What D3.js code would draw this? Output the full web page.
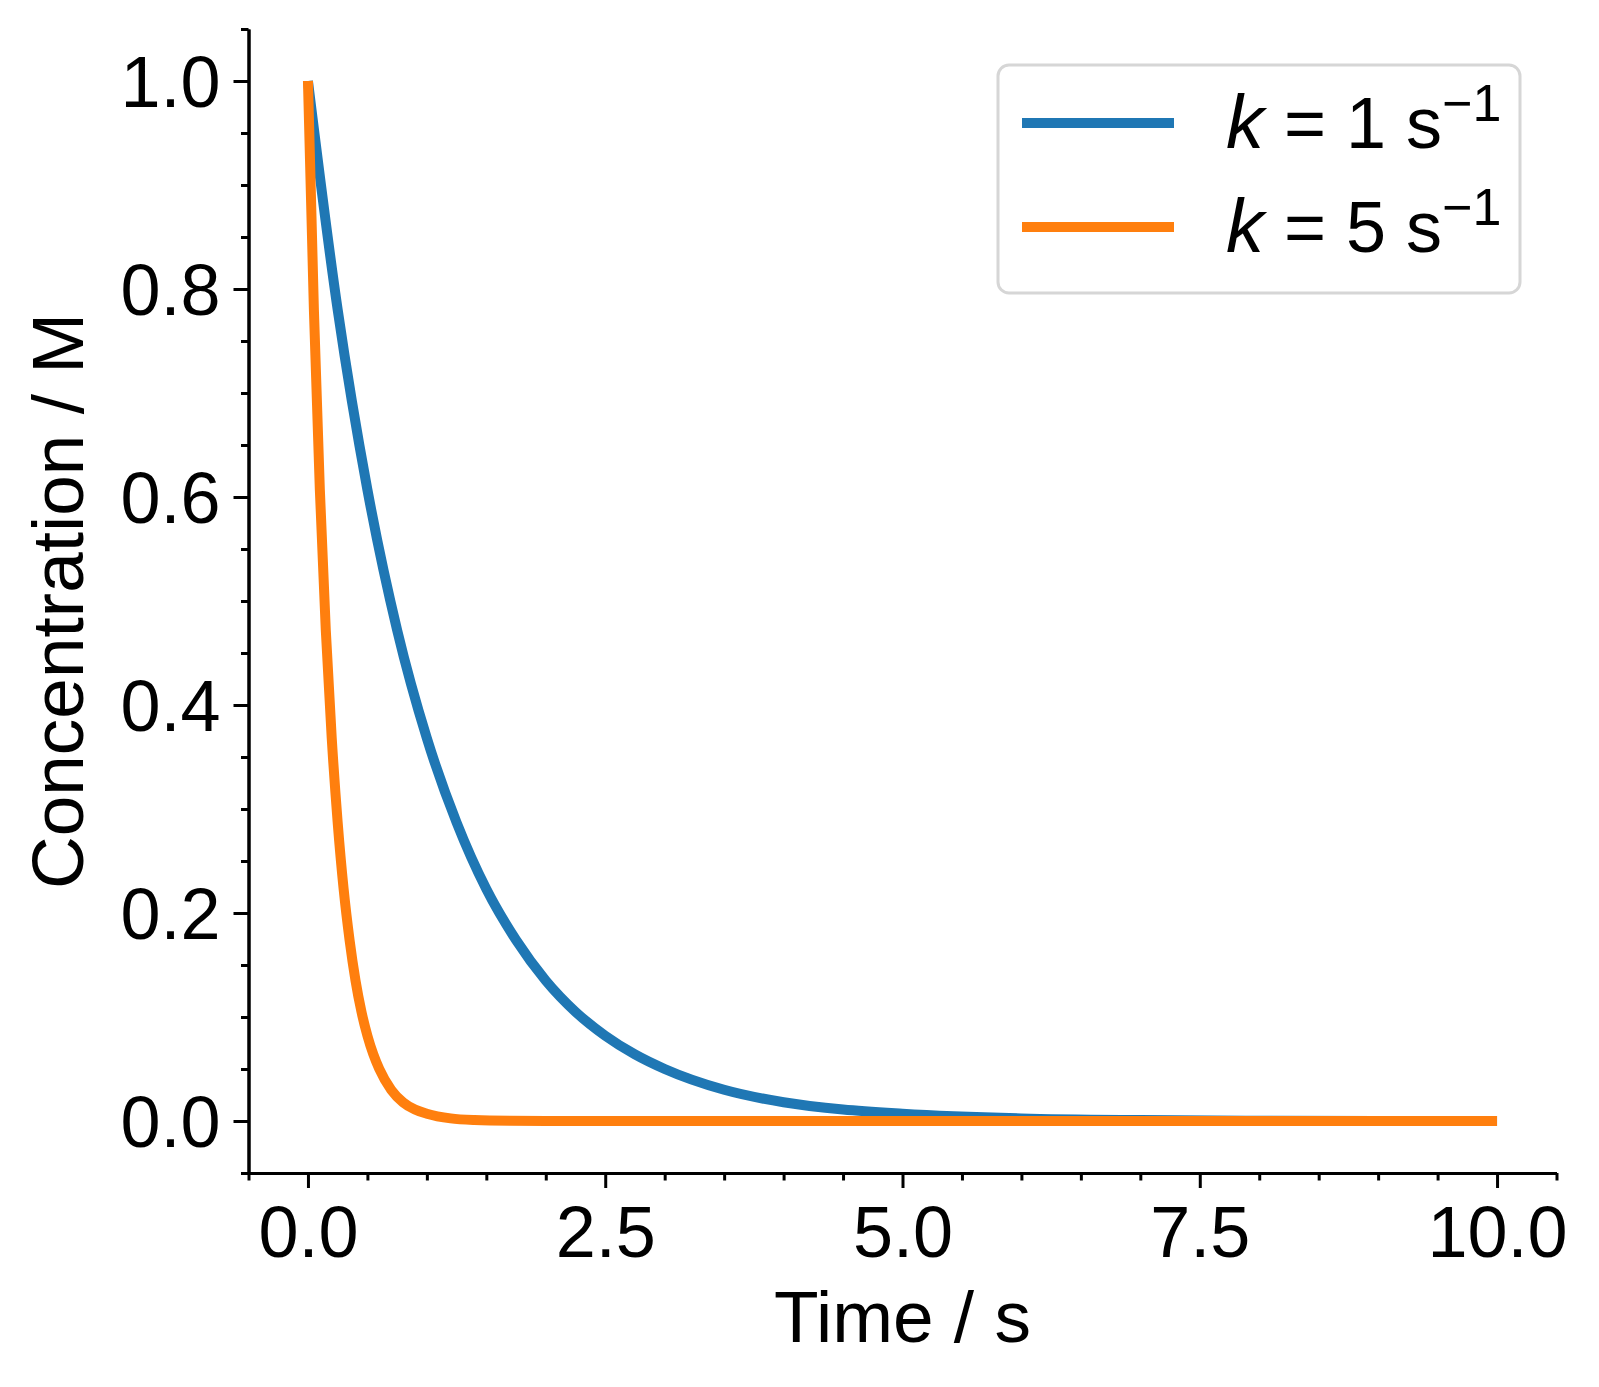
<!DOCTYPE html>
<html>
<head>
<meta charset="utf-8">
<script src="https://cdn.jsdelivr.net/npm/d3@7"></script>
<style>
  body { margin: 0; background: #fff; }
  text { font-family: "Liberation Sans", Arial, sans-serif; }
</style>
</head>
<body>
<script>
// values
var timeK1 = [0, 0.25, 0.5, 0.75, 1, 1.25, 1.5, 1.75, 2, 2.25, 2.5, 2.75, 3, 3.5, 4, 4.5, 5, 6, 7, 8, 9, 10];
var concK1 = [1.0, 0.78, 0.607, 0.472, 0.368, 0.287, 0.223, 0.174, 0.135, 0.105, 0.082, 0.064, 0.050, 0.030, 0.018, 0.011, 0.007, 0.0025, 0.0009, 0.0003, 0.0001, 0.00005];

var timeK5 = [0, 0.05, 0.1, 0.15, 0.2, 0.25, 0.3, 0.35, 0.4, 0.45, 0.5, 0.55, 0.6, 0.7, 0.8, 0.9, 1.0, 1.2, 1.4, 1.7, 2, 3, 5, 10];
var concK5 = [1.0, 0.78, 0.607, 0.472, 0.368, 0.287, 0.223, 0.174, 0.135, 0.105, 0.082, 0.064, 0.050, 0.030, 0.018, 0.011, 0.007, 0.0025, 0.0009, 0.0002, 0.00005, 0, 0, 0];

var seriesNames = ["1", "5"];
var seriesColors = ["#1f77b4", "#ff7f0e"];

var xTicks = [0, 2.5, 5, 7.5, 10];
var yTicks = [0, 0.2, 0.4, 0.6, 0.8, 1.0];

var series = [
  timeK1.map(function(t, i) { return {t: t, c: concK1[i]}; }),
  timeK5.map(function(t, i) { return {t: t, c: concK5[i]}; })
];

var svg = d3.select("body")
  .append("svg")
  .attr("width", 1599)
  .attr("height", 1387);

var x = d3.scaleLinear()
  .domain([-0.5, 10.5])
  .range([248.5, 1556.5]);

var y = d3.scaleLinear()
  .domain([-0.05, 1.05])
  .range([1173, 29]);

// minor ticks
var xMinor = d3.range(-0.5, 10.51, 0.5).filter(function(v) { return xTicks.indexOf(v) < 0; });
var yMinor = d3.range(-0.05, 1.051, 0.05).map(function(v) { return Math.round(v * 100) / 100; })
  .filter(function(v) { return yTicks.indexOf(v) < 0; });

function styleAxis(g) {
  g.select(".domain").attr("stroke", "#000").attr("stroke-width", 3);
  g.selectAll(".tick line").attr("stroke", "#000").attr("stroke-width", 3);
  g.selectAll(".tick text")
    .attr("fill", "#000")
    .attr("font-size", 72)
    .attr("font-family", "'Liberation Sans', Arial, sans-serif");
}

svg.append("g")
  .attr("transform", "translate(0,1173)")
  .call(d3.axisBottom(x).tickValues(xMinor).tickSize(7.5).tickSizeOuter(0).tickFormat(""))
  .call(styleAxis);

svg.append("g")
  .attr("transform", "translate(248.5,0)")
  .call(d3.axisLeft(y).tickValues(yMinor).tickSize(7.5).tickSizeOuter(0).tickFormat(""))
  .call(styleAxis);

svg.append("g")
  .attr("transform", "translate(0,1173)")
  .call(d3.axisBottom(x).tickValues(xTicks).tickSize(15).tickSizeOuter(0)
    .tickPadding(18).tickFormat(d3.format(".1f")))
  .call(styleAxis);

svg.append("g")
  .attr("transform", "translate(248.5,0)")
  .call(d3.axisLeft(y).tickValues(yTicks).tickSize(15).tickSizeOuter(0)
    .tickPadding(13).tickFormat(d3.format(".1f")))
  .call(styleAxis)
  .selectAll(".tick text").attr("dy", "0.35em");

// curves
var line = d3.line()
  .x(function(d) { return x(d.t); })
  .y(function(d) { return y(d.c); })
  .curve(d3.curveMonotoneX);

svg.selectAll("path.curve")
  .data(series)
  .enter()
  .append("path")
    .attr("class", "curve")
    .attr("d", line)
    .attr("fill", "none")
    .attr("stroke", function(d, i) { return seriesColors[i]; })
    .attr("stroke-width", 10)
    .attr("stroke-linejoin", "round");

// axis labels
svg.append("text")
  .attr("x", 902.5)
  .attr("y", 1342)
  .attr("text-anchor", "middle")
  .attr("font-size", 73)
  .text("Time / s");

svg.append("text")
  .attr("transform", "translate(83,601) rotate(-90)")
  .attr("text-anchor", "middle")
  .attr("font-size", 73)
  .text("Concentration / M");

// legend
var legend = svg.append("g");

legend.append("rect")
  .attr("x", 998)
  .attr("y", 65)
  .attr("width", 522)
  .attr("height", 228)
  .attr("rx", 11)
  .attr("fill", "#fff")
  .attr("fill-opacity", 0.8)
  .attr("stroke", "#d6d6d6")
  .attr("stroke-width", 3);

var items = legend.selectAll("g.item")
  .data(seriesNames)
  .enter()
  .append("g")
    .attr("class", "item")
    .attr("transform", function(d, i) { return "translate(0," + (i * 104) + ")"; });

items.append("line")
  .attr("x1", 1022)
  .attr("x2", 1174)
  .attr("y1", 123)
  .attr("y2", 123)
  .attr("stroke", function(d, i) { return seriesColors[i]; })
  .attr("stroke-width", 10);

var label = items.append("text")
  .attr("x", 1226)
  .attr("y", 148)
  .attr("font-size", 72);

label.append("tspan")
  .attr("font-style", "italic")
  .attr("font-size", 76)
  .text("k");
label.append("tspan")
  .text(function(d) { return "\u00a0=\u00a0" + d + "\u00a0s"; });
label.append("tspan")
  .attr("font-size", 52)
  .attr("dy", -27)
  .text("\u22121");
</script>
</body>
</html>
